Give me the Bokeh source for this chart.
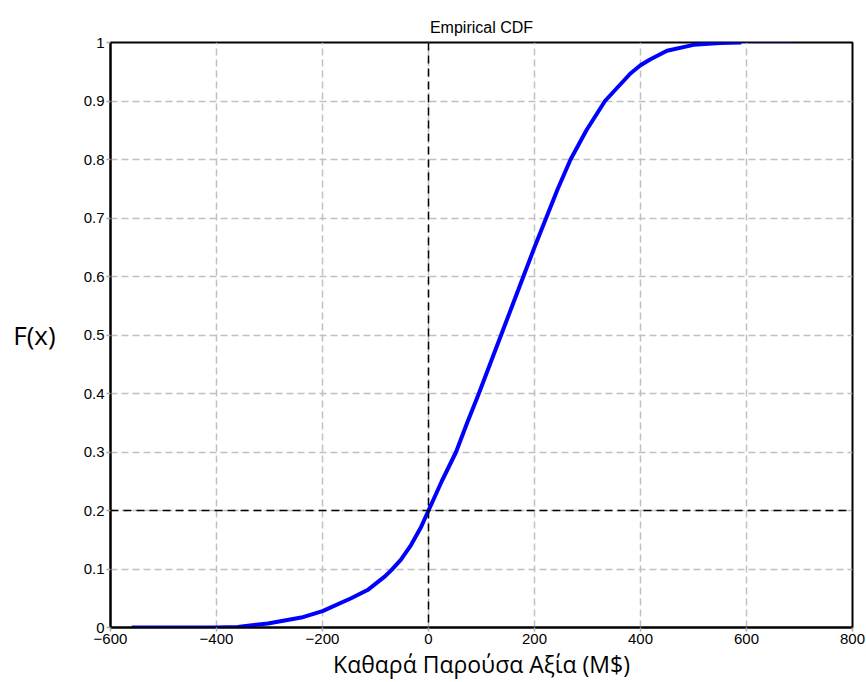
from bokeh.plotting import figure
from bokeh.models import FixedTicker, Span, Range1d, Title
from bokeh.embed import file_html
from bokeh.resources import INLINE

# Empirical CDF
npv = [-560, -400, -360, -303, -240, -200, -146, -115, -84, -70, -52, -33, -15, 0,
       25, 52, 73, 95, 116, 137, 158, 179, 200, 222, 244, 268, 298, 333, 381, 400,
       418, 450, 500, 550, 590]
cdf = [0.0, 0.0, 0.001, 0.007, 0.017, 0.028, 0.050, 0.064, 0.086, 0.098, 0.116,
       0.141, 0.17, 0.2, 0.25, 0.3, 0.35, 0.4, 0.45, 0.5, 0.55, 0.6, 0.65, 0.7,
       0.75, 0.8, 0.85, 0.9, 0.947, 0.961, 0.971, 0.986, 0.996, 0.999, 1.0]
tail_x = [590, 690]
tail_y = [1.0, 1.0]

x_ticks = [-600, -400, -200, 0, 200, 400, 600, 800]
y_ticks = [0, 0.1, 0.2, 0.3, 0.4, 0.5, 0.6, 0.7, 0.8, 0.9, 1]
y_tick_labels = {0: "0", 0.1: "0.1", 0.2: "0.2", 0.3: "0.3", 0.4: "0.4", 0.5: "0.5",
                 0.6: "0.6", 0.7: "0.7", 0.8: "0.8", 0.9: "0.9", 1: "1"}
ref_x = 0
ref_y = 0.2

p = figure(width=866, height=682, output_backend="svg", toolbar_location=None,
           x_range=Range1d(-600, 800), y_range=Range1d(0, 1),
           min_border_left=110, min_border_right=14, min_border_top=42, min_border_bottom=55)

p.title.text = "Empirical CDF"
p.title.align = "center"
p.title.text_font = "Liberation Sans"
p.title.text_font_size = "16px"
p.title.text_font_style = "normal"
p.title.text_color = "black"
p.title.standoff = 14

p.outline_line_color = "black"
p.outline_line_width = 2
p.outline_line_alpha = 1

for ax in (p.xaxis[0], p.yaxis[0]):
    ax.axis_line_color = "black"
    ax.axis_line_width = 2
    ax.major_tick_line_color = "#aaaaaa"
    ax.major_tick_line_width = 1.5
    ax.major_tick_out = 4
    ax.major_tick_in = 0
    ax.minor_tick_line_color = None
    ax.major_label_text_font = "Liberation Sans"
    ax.major_label_text_font_size = "15px"
    ax.major_label_text_color = "black"

p.xaxis.ticker = FixedTicker(ticks=x_ticks)
p.yaxis.ticker = FixedTicker(ticks=y_ticks)
p.yaxis.major_label_overrides = y_tick_labels
p.xaxis.major_label_standoff = 2
p.yaxis.major_label_standoff = 2

p.xaxis.axis_label = "Καθαρά Παρούσα Αξία (M$)"
p.xaxis.axis_label_text_font = "Open Sans"
p.xaxis.axis_label_text_font_style = "normal"
p.xaxis.axis_label_text_font_size = "23px"
p.xaxis.axis_label_text_color = "black"
p.xaxis.axis_label_standoff = 1

yax = p.yaxis[0]
if "axis_label_orientation" in yax.properties():
    yax.axis_label = "F(x)"
    yax.axis_label_orientation = "horizontal"
    yax.axis_label_text_font = "Open Sans"
    yax.axis_label_text_font_style = "normal"
    yax.axis_label_text_font_size = "26px"
    yax.axis_label_text_color = "black"
    yax.axis_label_standoff = 25
else:
    p.add_layout(Title(text="F(x)", text_font="Open Sans", text_font_size="26px",
                       text_font_style="normal", align="center"), "left")

for g in (p.xgrid[0], p.ygrid[0]):
    g.grid_line_color = "#c0c0c0"
    g.grid_line_dash = "7 4"
    g.grid_line_width = 1.5

p.add_layout(Span(location=ref_x, dimension="height", line_color="black",
                  line_dash="8 5", line_width=1.5))
p.add_layout(Span(location=ref_y, dimension="width", line_color="black",
                  line_dash="8 5", line_width=1.5))

p.line(npv, cdf, line_color="#0000ff", line_width=4, line_join="round")
p.line(tail_x, tail_y, line_color="#0000aa", line_width=1.2)

open("out.html", "w").write(file_html(p, INLINE))
